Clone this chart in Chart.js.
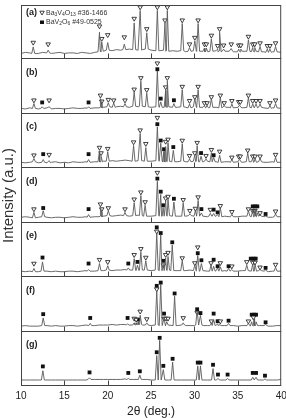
<!DOCTYPE html>
<html>
<head>
<meta charset="utf-8">
<script src="https://cdn.jsdelivr.net/npm/chart.js@4/dist/chart.umd.min.js"></script>
<style>
  body { margin: 0; background: #fff; }
  canvas { display: block; }
</style>
</head>
<body>
<canvas id="xrd" width="286" height="418"></canvas>
<script>
// Panels, top to bottom
const panelLabels = ['(a)', '(b)', '(c)', '(d)', '(e)', '(f)', '(g)'];
const xTicks = [10, 15, 20, 25, 30, 35, 40];

// background level of each pattern (a.u., 0-100 inside its own panel), read every 0.5 deg
const baseX = [10, 10.5, 11, 11.5, 12, 12.5, 13, 13.5, 14, 14.5,
               15, 15.5, 16, 16.5, 17, 17.5, 18, 18.5, 19, 19.5,
               20, 20.5, 21, 21.5, 22, 22.5, 23, 23.5, 24, 24.5,
               25, 25.5, 26, 26.5, 27, 27.5, 28, 28.5, 29, 29.5,
               30, 30.5, 31, 31.5, 32, 32.5, 33, 33.5, 34, 34.5,
               35, 35.5, 36, 36.5, 37, 37.5, 38, 38.5, 39, 39.5, 40];
const baseA = [11, 13, 12, 11, 11, 13, 12, 11, 12, 13, 11, 12, 12, 11, 13, 12, 11, 13, 14, 15,
               17, 16, 18, 17, 18, 19, 18, 17, 18, 19, 17, 16, 16, 17, 15, 16, 15, 16, 14, 15,
               16, 15, 15, 14, 15, 16, 14, 15, 15, 14, 14, 15, 15, 14, 15, 14, 14, 13, 14, 14, 13];
const baseB = [10, 9, 11, 10, 9, 10, 11, 9, 10, 10, 9, 10, 11, 10, 10, 11, 10, 11, 11, 12,
               13, 12, 13, 14, 13, 12, 14, 13, 14, 13, 12, 13, 12, 12, 13, 12, 12, 13, 12, 11,
               13, 12, 12, 11, 12, 12, 11, 12, 12, 11, 12, 11, 12, 11, 11, 12, 11, 10, 11, 11, 10];
const baseC = [11, 10, 11, 12, 10, 11, 10, 11, 12, 10, 11, 10, 12, 11, 11, 12, 11, 12, 12, 13,
               13, 14, 13, 14, 15, 14, 13, 14, 14, 13, 13, 14, 13, 12, 13, 12, 12, 13, 12, 12,
               13, 12, 12, 13, 12, 12, 11, 12, 12, 11, 12, 11, 12, 12, 11, 12, 11, 11, 12, 11, 11];
const baseD = [10, 11, 10, 9, 10, 11, 10, 9, 10, 10, 9, 10, 11, 10, 10, 11, 10, 11, 11, 12,
               13, 12, 13, 14, 13, 12, 13, 14, 13, 12, 12, 13, 12, 12, 13, 12, 12, 12, 12, 13,
               12, 12, 12, 11, 12, 12, 11, 12, 11, 11, 11, 12, 12, 11, 11, 12, 11, 10, 10, 11, 11];
const baseE = [11, 10, 11, 10, 10, 11, 11, 10, 11, 10, 10, 11, 11, 10, 11, 12, 11, 11, 12, 12,
               13, 12, 13, 13, 14, 13, 13, 12, 13, 13, 12, 13, 12, 12, 13, 12, 12, 12, 12, 13,
               12, 11, 12, 11, 11, 12, 11, 12, 11, 11, 11, 12, 12, 11, 11, 12, 11, 10, 11, 11, 11];
const baseF = [10, 11, 10, 10, 10, 11, 11, 10, 11, 10, 10, 11, 11, 10, 11, 12, 11, 11, 12, 12,
               12, 13, 12, 13, 13, 12, 12, 13, 12, 12, 11, 12, 11, 11, 12, 11, 11, 12, 11, 11,
               11, 12, 11, 11, 11, 12, 11, 11, 11, 11, 10, 11, 11, 10, 11, 11, 11, 10, 10, 11, 11];
const baseG = [11, 11, 11, 11, 11, 11, 11, 11, 11, 11, 11, 11, 11, 11, 11, 11, 12, 12, 12, 12,
               12, 12, 12, 12, 13, 12, 12, 12, 12, 12, 11, 11, 11, 11, 11, 11, 11, 11, 11, 11,
               11, 11, 11, 11, 11, 11, 11, 11, 11, 11, 11, 11, 11, 11, 11, 11, 11, 11, 11, 11, 12];

// peaks [2theta, intensity]
const peaksA = [[11.41, 23], [13.13, 17], [19.05, 50], [19.31, 32], [20.0, 31], [21.91, 28], [23.05, 67], [23.74, 90], [24.50, 49], [25.72, 90], [26.60, 67], [26.87, 90], [28.59, 66], [29.43, 22], [30.04, 34], [30.42, 66], [31.15, 21], [31.37, 21], [31.95, 38], [32.67, 19], [32.90, 50], [33.36, 19], [34.24, 20], [35.11, 19], [35.34, 19], [36.22, 36], [36.72, 22], [36.95, 22], [37.56, 24], [38.40, 19], [38.70, 19], [39.35, 24]];
const peaksB = [[11.49, 19], [12.44, 13], [13.24, 13], [17.79, 13], [19.16, 28], [19.31, 19], [20.07, 20], [20.69, 20], [21.99, 19], [23.05, 40], [23.82, 60], [24.50, 38], [25.72, 79], [26.11, 22], [26.68, 43], [26.87, 60], [27.63, 19], [28.59, 44], [29.43, 18], [30.04, 28], [30.42, 44], [31.15, 15], [31.45, 15], [31.95, 28], [32.98, 30], [33.43, 15], [34.31, 18], [35.19, 16], [36.22, 30], [36.72, 18], [37.10, 18], [37.56, 18], [38.70, 15], [39.35, 19]];
const peaksC = [[11.49, 18], [12.56, 16], [13.24, 14], [17.79, 16], [19.05, 32], [19.23, 22], [20.0, 30], [22.98, 42], [23.74, 64], [24.39, 38], [25.72, 76], [26.11, 46], [26.49, 31], [26.68, 40], [26.95, 47], [27.56, 33], [28.59, 45], [29.43, 17], [30.04, 24], [30.31, 41], [30.76, 22], [31.33, 17], [31.95, 28], [32.21, 20], [32.90, 24], [34.31, 16], [35.19, 17], [36.14, 28], [36.72, 18], [36.98, 18], [37.56, 18], [39.35, 20]];
const peaksD = [[11.49, 19], [12.56, 22], [17.79, 15], [19.16, 28], [19.31, 20], [20.07, 22], [21.99, 19], [23.05, 37], [23.82, 50], [24.31, 32], [25.72, 76], [26.11, 52], [26.38, 28], [26.68, 40], [26.95, 43], [27.63, 38], [28.70, 36], [29.47, 16], [30.11, 22], [30.42, 41], [30.80, 18], [31.83, 17], [32.21, 17], [32.67, 15], [32.98, 28], [34.31, 15], [36.22, 22], [36.72, 24], [36.98, 24], [37.25, 18], [37.56, 14], [38.20, 12], [39.35, 16]];
const peaksE = [[11.49, 16], [12.48, 28], [17.79, 14], [19.05, 25], [20.0, 21], [22.37, 17], [23.05, 34], [23.43, 22], [23.82, 46], [24.39, 30], [25.65, 80], [26.11, 78], [26.41, 23], [26.68, 35], [26.95, 38], [27.44, 59], [28.59, 30], [30.04, 22], [30.38, 40], [30.80, 25], [31.91, 22], [32.21, 20], [32.67, 17], [32.98, 19], [33.93, 16], [34.31, 14], [36.03, 22], [36.72, 24], [36.98, 24], [37.56, 14], [38.20, 13], [39.35, 18]];
const peaksF = [[12.56, 25], [17.98, 15], [22.29, 14], [23.05, 16], [23.28, 16], [23.51, 18], [23.74, 30], [24.50, 16], [25.65, 74], [26.11, 87], [26.49, 25], [26.80, 18], [27.71, 65], [28.70, 16], [30.31, 38], [30.69, 30], [31.95, 15], [32.21, 22], [32.67, 14], [32.90, 13], [33.93, 15], [36.22, 15], [36.60, 18], [36.87, 24], [37.10, 18], [38.20, 13]];
const peaksG = [[12.52, 28], [17.90, 15], [22.37, 14], [23.70, 20], [25.65, 56], [25.99, 84], [26.41, 30], [27.48, 44], [30.38, 37], [30.69, 37], [32.14, 32], [32.71, 14], [33.82, 14], [36.72, 16], [37.10, 16], [38.13, 13]];

// Ba3V4O13 reflections (open triangles) [2theta, marker height]
const triA = [[11.41, 31], [13.13, 28], [19.05, 61], [19.31, 38], [20.0, 45], [21.91, 41], [23.05, 75], [23.74, 96], [24.50, 56], [25.72, 96], [26.60, 72], [26.87, 96], [28.59, 72], [29.43, 28], [30.04, 40], [30.42, 72], [31.15, 28], [31.37, 28], [31.95, 44], [32.67, 25], [32.90, 56], [33.36, 26], [34.24, 28], [35.11, 26], [35.34, 26], [36.22, 42], [36.72, 28], [36.95, 28], [37.56, 30], [38.40, 25], [38.70, 25], [39.35, 30]];
const triB = [[11.49, 25], [13.24, 25], [19.16, 34], [19.31, 23], [20.07, 26], [20.69, 25], [21.99, 25], [23.05, 45], [23.82, 66], [24.50, 44], [25.72, 93], [26.68, 49], [26.87, 66], [28.59, 50], [29.43, 24], [30.04, 31], [30.42, 50], [31.15, 20], [31.45, 20], [31.95, 31], [32.98, 34], [33.43, 20], [34.31, 24], [35.10, 22], [35.28, 22], [36.22, 34], [36.72, 24], [37.10, 24], [37.56, 24], [38.70, 20], [39.35, 25]];
const triC = [[11.49, 24], [13.24, 25], [19.05, 38], [19.23, 28], [20.0, 36], [22.98, 48], [23.74, 70], [24.39, 45], [25.72, 93], [26.68, 49], [26.95, 53], [28.59, 51], [29.43, 23], [30.04, 28], [30.31, 47], [31.33, 23], [31.95, 34], [32.90, 31], [34.31, 20], [35.10, 22], [35.28, 22], [36.14, 33], [36.72, 22], [36.98, 22], [37.56, 22], [39.35, 25]];
const triD = [[11.49, 25], [19.16, 34], [19.31, 25], [20.07, 27], [21.99, 25], [23.05, 43], [23.82, 56], [24.31, 38], [25.72, 92], [26.68, 45], [26.95, 48], [28.70, 42], [29.47, 22], [30.11, 26], [30.42, 47], [31.83, 24], [32.98, 31], [34.31, 20], [36.22, 25], [36.72, 22], [36.98, 22], [37.56, 18], [39.35, 21]];
const triE = [[11.49, 25], [19.05, 32], [20.0, 28], [23.05, 41], [23.82, 52], [24.39, 36], [25.65, 84], [26.41, 22], [26.68, 41], [26.95, 45], [28.59, 35], [30.04, 26], [30.38, 55], [31.91, 26], [32.98, 26], [34.31, 20], [36.03, 28], [36.72, 27], [36.98, 27], [37.56, 18], [39.35, 23]];
const triF = [[23.05, 24], [23.28, 22], [23.74, 37], [24.50, 23], [25.65, 78], [26.49, 24], [26.72, 24], [26.95, 24], [28.70, 25], [30.31, 35], [31.95, 19], [32.98, 19], [36.22, 19], [36.80, 26]];
const triG = [];

// BaV2O6 reflections (filled squares)
const sqA = [];
const sqB = [[12.44, 21], [17.79, 21], [25.72, 82], [26.11, 28], [27.63, 25]];
const sqC = [[12.56, 26], [17.79, 26], [25.72, 81], [26.11, 51], [26.49, 35], [27.56, 39], [30.76, 28], [32.21, 24]];
const sqD = [[12.56, 27], [17.79, 25], [25.72, 81], [26.11, 57], [26.38, 32], [27.63, 44], [30.80, 25], [32.21, 24], [32.67, 19], [36.72, 30], [36.98, 30], [37.25, 30], [38.20, 16]];
const sqE = [[12.48, 36], [17.79, 25], [22.37, 25], [23.43, 28], [25.65, 91.5], [26.11, 81], [26.41, 30], [27.44, 64], [30.38, 44], [30.80, 31], [32.21, 32], [32.67, 20], [33.93, 20], [36.49, 34], [36.80, 34], [37.06, 34], [38.20, 17]];
const sqF = [[12.56, 32], [17.98, 25], [22.29, 25], [23.51, 22], [25.65, 84], [26.11, 90], [26.49, 33], [27.71, 70], [30.31, 41], [30.69, 34], [32.21, 33], [32.67, 19], [33.93, 20], [36.60, 31], [36.87, 31], [37.10, 31], [38.20, 17]];
const sqG = [[12.52, 36], [17.90, 25], [22.37, 24], [23.70, 27], [25.65, 62], [25.99, 88.5], [26.41, 37], [27.48, 50], [30.38, 43], [30.69, 43], [32.14, 39], [32.71, 21], [33.82, 21], [36.72, 24], [37.10, 24], [38.13, 19]];

const bases = [baseA, baseB, baseC, baseD, baseE, baseF, baseG];
const peaks = [peaksA, peaksB, peaksC, peaksD, peaksE, peaksF, peaksG];
const tris = [triA, triB, triC, triD, triE, triF, triG];
const squares = [sqA, sqB, sqC, sqD, sqE, sqF, sqG];

const PANEL = 100;        // y units per panel
const HALF_WIDTH = 0.17;  // peak half width at the foot, deg

// merge background and peaks into one pattern, shifted up into its panel
function buildTrace(base, pk, offset) {
    const pts = [];
    baseX.forEach((x, i) => {
        if (!pk.some(p => Math.abs(p[0] - x) < HALF_WIDTH + 0.05)) pts.push({ x: x, y: base[i] + offset });
    });
    pk.forEach(([x, h]) => {
        const lvl = base[Math.round((x - baseX[0]) * 2)] + offset;
        pts.push({ x: x - HALF_WIDTH, y: lvl }, { x: x, y: h + offset }, { x: x + HALF_WIDTH, y: lvl });
    });
    return pts.sort((a, b) => a.x - b.x);
}

const shift = (arr, offset) => arr.map(([x, y]) => ({ x: x, y: y + offset }));

const datasets = [];
panelLabels.forEach((lbl, k) => {
    const offset = (panelLabels.length - 1 - k) * PANEL;
    datasets.push({
        data: buildTrace(bases[k], peaks[k], offset),
        borderColor: '#5a5a5a', borderWidth: 0.9, pointRadius: 0, tension: 0
    });
    datasets.push({
        data: shift(tris[k], offset), showLine: false, clip: false,
        pointStyle: 'triangle', rotation: 180, pointRadius: 2.6,
        borderColor: '#111', borderWidth: 0.8, backgroundColor: '#fff'
    });
    datasets.push({
        data: shift(squares[k], offset), showLine: false, clip: false,
        pointStyle: 'rect', pointRadius: 2.7,
        borderWidth: 0, backgroundColor: '#111'
    });
});

// write "Ba3V4O13"-like names with subscript digits
function drawFormula(ctx, parts, x, y, size) {
    parts.forEach(([txt, sub]) => {
        ctx.font = (sub ? size - 2 : size) + 'px "Liberation Sans", Arial';
        ctx.fillText(txt, x, sub ? y + 2 : y);
        x += ctx.measureText(txt).width;
    });
}

// Frames, inner ticks, panel letters and the legend
const panelFrames = {
    id: 'panelFrames',
    afterDatasetsDraw(chart) {
        const { ctx, chartArea: a, scales: { x, y } } = chart;
        ctx.save();
        ctx.strokeStyle = '#444';
        ctx.lineWidth = 1;
        ctx.strokeRect(a.left + 0.5, a.top + 0.5, a.width - 1, a.height - 1);
        ctx.beginPath();
        panelLabels.forEach((lbl, k) => {
            const bottom = Math.round(y.getPixelForValue((panelLabels.length - 1 - k) * PANEL)) - 0.5;
            ctx.moveTo(a.left, bottom);
            ctx.lineTo(a.right, bottom);
            xTicks.slice(1, -1).forEach(v => {
                const px = Math.round(x.getPixelForValue(v)) + 0.5;
                ctx.moveTo(px, bottom);
                ctx.lineTo(px, bottom - 5);
            });
        });
        ctx.stroke();

        ctx.fillStyle = '#222';
        ctx.textBaseline = 'middle';
        ctx.font = 'bold 9px "Liberation Sans", Arial';
        panelLabels.forEach((lbl, k) => {
            const top = y.getPixelForValue((panelLabels.length - k) * PANEL);
            ctx.fillText(lbl, a.left + 5, top + (k === 0 ? 8 : 13));
        });

        // legend inside panel (a)
        const lx = a.left + 21, ly = a.top + 8;
        ctx.beginPath();
        ctx.moveTo(lx - 2.2, ly - 1.8);
        ctx.lineTo(lx + 2.2, ly - 1.8);
        ctx.lineTo(lx, ly + 2);
        ctx.closePath();
        ctx.lineWidth = 0.8;
        ctx.strokeStyle = '#111';
        ctx.stroke();
        ctx.fillStyle = '#111';
        ctx.fillRect(lx - 2, ly + 7.5, 4, 3.5);
        ctx.fillStyle = '#333';
        drawFormula(ctx, [['Ba'], ['3', 1], ['V'], ['4', 1], ['O'], ['13', 1], [' #36-1466']], lx + 4, ly, 7);
        drawFormula(ctx, [['BaV'], ['2', 1], ['O'], ['6', 1], [' #49-0525']], lx + 4, ly + 9, 7);
        ctx.restore();
    }
};

new Chart(document.getElementById('xrd'), {
    type: 'line',
    data: { datasets: datasets },
    options: {
        responsive: false,
        animation: false,
        layout: { padding: { top: 5, right: 3, left: 0, bottom: 0 } },
        plugins: { legend: { display: false }, tooltip: { enabled: false } },
        scales: {
            x: {
                type: 'linear', min: 10, max: 40,
                afterBuildTicks: s => { s.ticks = xTicks.map(v => ({ value: v })); },
                afterFit: s => { s.paddingLeft = 0; s.paddingRight = 0; },
                grid: { display: false, drawTicks: false },
                border: { display: false },
                ticks: { padding: 4, color: '#222', font: { family: '"Liberation Sans", Arial', size: 10 } },
                title: {
                    display: true, text: '2θ (deg.)', color: '#222', padding: 0,
                    font: { family: '"Liberation Sans", Arial', size: 12, lineHeight: 1 }
                }
            },
            y: {
                min: 0, max: panelLabels.length * PANEL,
                grid: { display: false, drawTicks: false },
                border: { display: false },
                ticks: { display: false },
                title: {
                    display: true, text: 'Intensity (a.u.)', color: '#333',
                    padding: { top: 0, bottom: 3 },
                    font: { family: '"Liberation Sans", Arial', size: 15, lineHeight: 1.2 }
                }
            }
        }
    },
    plugins: [panelFrames]
});
</script>
</body>
</html>
